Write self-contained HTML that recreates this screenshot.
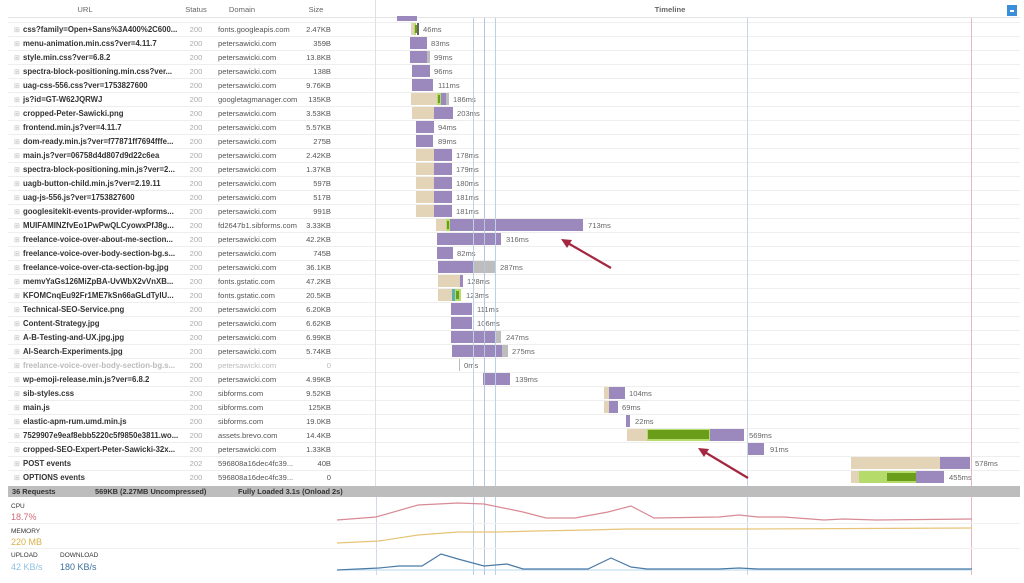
<!DOCTYPE html>
<html><head><meta charset="utf-8"><style>
html,body{margin:0;padding:0;background:#fff;width:1024px;height:583px;overflow:hidden}
svg{display:block;font-family:"Liberation Sans",sans-serif}
.u{font-size:7.8px;font-weight:bold;fill:#333}
.s{font-size:7.6px;fill:#aaa;text-anchor:middle}
.d{font-size:7.6px;fill:#555}
.z{font-size:7.6px;fill:#555;text-anchor:end}
.m{font-size:7.6px;fill:#666}
.h{font-size:7.6px;fill:#666;text-anchor:middle}
.p{fill:#9b88bd}.t{fill:#e3d4b8}.g{fill:#6a9e1a}.lg{fill:#b5dc6a}.gr{fill:#bdbdbd}
.b{font-size:7.4px;font-weight:bold;fill:#333}
</style></head><body>
<svg width="1024" height="583" viewBox="0 0 1024 583">
<text class="h" x="85" y="12">URL</text>
<text class="h" x="196" y="12">Status</text>
<text class="h" x="242" y="12">Domain</text>
<text class="h" x="316" y="12">Size</text>
<text class="h" x="670" y="12" style="font-weight:bold">Timeline</text>
<rect x="1007" y="5" width="10" height="11" fill="#3a8fd8"/>
<rect x="1010" y="10" width="4" height="2" fill="#fff"/>
<line x1="8" y1="17.5" x2="1020" y2="17.5" stroke="#e4e4e4"/>
<g stroke="#eee" stroke-width="1">
<line x1="8" y1="22.5" x2="1020" y2="22.5"/><line x1="8" y1="36.5" x2="1020" y2="36.5"/><line x1="8" y1="50.5" x2="1020" y2="50.5"/><line x1="8" y1="64.5" x2="1020" y2="64.5"/><line x1="8" y1="78.5" x2="1020" y2="78.5"/><line x1="8" y1="92.5" x2="1020" y2="92.5"/><line x1="8" y1="106.5" x2="1020" y2="106.5"/><line x1="8" y1="120.5" x2="1020" y2="120.5"/><line x1="8" y1="134.5" x2="1020" y2="134.5"/><line x1="8" y1="148.5" x2="1020" y2="148.5"/><line x1="8" y1="162.5" x2="1020" y2="162.5"/><line x1="8" y1="176.5" x2="1020" y2="176.5"/><line x1="8" y1="190.5" x2="1020" y2="190.5"/><line x1="8" y1="204.5" x2="1020" y2="204.5"/><line x1="8" y1="218.5" x2="1020" y2="218.5"/><line x1="8" y1="232.5" x2="1020" y2="232.5"/><line x1="8" y1="246.5" x2="1020" y2="246.5"/><line x1="8" y1="260.5" x2="1020" y2="260.5"/><line x1="8" y1="274.5" x2="1020" y2="274.5"/><line x1="8" y1="288.5" x2="1020" y2="288.5"/><line x1="8" y1="302.5" x2="1020" y2="302.5"/><line x1="8" y1="316.5" x2="1020" y2="316.5"/><line x1="8" y1="330.5" x2="1020" y2="330.5"/><line x1="8" y1="344.5" x2="1020" y2="344.5"/><line x1="8" y1="358.5" x2="1020" y2="358.5"/><line x1="8" y1="372.5" x2="1020" y2="372.5"/><line x1="8" y1="386.5" x2="1020" y2="386.5"/><line x1="8" y1="400.5" x2="1020" y2="400.5"/><line x1="8" y1="414.5" x2="1020" y2="414.5"/><line x1="8" y1="428.5" x2="1020" y2="428.5"/><line x1="8" y1="442.5" x2="1020" y2="442.5"/><line x1="8" y1="456.5" x2="1020" y2="456.5"/><line x1="8" y1="470.5" x2="1020" y2="470.5"/>
</g>
<line x1="375.5" y1="0" x2="375.5" y2="486" stroke="#e0e0e0"/>
<g fill="#bbb" font-size="7px"><text x="14" y="32">⊞</text><text x="14" y="46">⊞</text><text x="14" y="60">⊞</text><text x="14" y="74">⊞</text><text x="14" y="88">⊞</text><text x="14" y="102">⊞</text><text x="14" y="116">⊞</text><text x="14" y="130">⊞</text><text x="14" y="144">⊞</text><text x="14" y="158">⊞</text><text x="14" y="172">⊞</text><text x="14" y="186">⊞</text><text x="14" y="200">⊞</text><text x="14" y="214">⊞</text><text x="14" y="228">⊞</text><text x="14" y="242">⊞</text><text x="14" y="256">⊞</text><text x="14" y="270">⊞</text><text x="14" y="284">⊞</text><text x="14" y="298">⊞</text><text x="14" y="312">⊞</text><text x="14" y="326">⊞</text><text x="14" y="340">⊞</text><text x="14" y="354">⊞</text><text x="14" y="368">⊞</text><text x="14" y="382">⊞</text><text x="14" y="396">⊞</text><text x="14" y="410">⊞</text><text x="14" y="424">⊞</text><text x="14" y="438">⊞</text><text x="14" y="452">⊞</text><text x="14" y="466">⊞</text><text x="14" y="480">⊞</text></g>
<g>
<text class="u" x="23" y="32">css?family=Open+Sans%3A400%2C600...</text><text class="s" x="196" y="32">200</text><text class="d" x="218" y="32">fonts.googleapis.com</text><text class="z" x="331" y="32">2.47KB</text>
<text class="u" x="23" y="46">menu-animation.min.css?ver=4.11.7</text><text class="s" x="196" y="46">200</text><text class="d" x="218" y="46">petersawicki.com</text><text class="z" x="331" y="46">359B</text>
<text class="u" x="23" y="60">style.min.css?ver=6.8.2</text><text class="s" x="196" y="60">200</text><text class="d" x="218" y="60">petersawicki.com</text><text class="z" x="331" y="60">13.8KB</text>
<text class="u" x="23" y="74">spectra-block-positioning.min.css?ver...</text><text class="s" x="196" y="74">200</text><text class="d" x="218" y="74">petersawicki.com</text><text class="z" x="331" y="74">138B</text>
<text class="u" x="23" y="88">uag-css-556.css?ver=1753827600</text><text class="s" x="196" y="88">200</text><text class="d" x="218" y="88">petersawicki.com</text><text class="z" x="331" y="88">9.76KB</text>
<text class="u" x="23" y="102">js?id=GT-W62JQRWJ</text><text class="s" x="196" y="102">200</text><text class="d" x="218" y="102">googletagmanager.com</text><text class="z" x="331" y="102">135KB</text>
<text class="u" x="23" y="116">cropped-Peter-Sawicki.png</text><text class="s" x="196" y="116">200</text><text class="d" x="218" y="116">petersawicki.com</text><text class="z" x="331" y="116">3.53KB</text>
<text class="u" x="23" y="130">frontend.min.js?ver=4.11.7</text><text class="s" x="196" y="130">200</text><text class="d" x="218" y="130">petersawicki.com</text><text class="z" x="331" y="130">5.57KB</text>
<text class="u" x="23" y="144">dom-ready.min.js?ver=f77871ff7694fffe...</text><text class="s" x="196" y="144">200</text><text class="d" x="218" y="144">petersawicki.com</text><text class="z" x="331" y="144">275B</text>
<text class="u" x="23" y="158">main.js?ver=06758d4d807d9d22c6ea</text><text class="s" x="196" y="158">200</text><text class="d" x="218" y="158">petersawicki.com</text><text class="z" x="331" y="158">2.42KB</text>
<text class="u" x="23" y="172">spectra-block-positioning.min.js?ver=2...</text><text class="s" x="196" y="172">200</text><text class="d" x="218" y="172">petersawicki.com</text><text class="z" x="331" y="172">1.37KB</text>
<text class="u" x="23" y="186">uagb-button-child.min.js?ver=2.19.11</text><text class="s" x="196" y="186">200</text><text class="d" x="218" y="186">petersawicki.com</text><text class="z" x="331" y="186">597B</text>
<text class="u" x="23" y="200">uag-js-556.js?ver=1753827600</text><text class="s" x="196" y="200">200</text><text class="d" x="218" y="200">petersawicki.com</text><text class="z" x="331" y="200">517B</text>
<text class="u" x="23" y="214">googlesitekit-events-provider-wpforms...</text><text class="s" x="196" y="214">200</text><text class="d" x="218" y="214">petersawicki.com</text><text class="z" x="331" y="214">991B</text>
<text class="u" x="23" y="228">MUIFAMINZfvEo1PwPwQLCyowxPfJ8g...</text><text class="s" x="196" y="228">200</text><text class="d" x="218" y="228">fd2647b1.sibforms.com</text><text class="z" x="331" y="228">3.33KB</text>
<text class="u" x="23" y="242">freelance-voice-over-about-me-section...</text><text class="s" x="196" y="242">200</text><text class="d" x="218" y="242">petersawicki.com</text><text class="z" x="331" y="242">42.2KB</text>
<text class="u" x="23" y="256">freelance-voice-over-body-section-bg.s...</text><text class="s" x="196" y="256">200</text><text class="d" x="218" y="256">petersawicki.com</text><text class="z" x="331" y="256">745B</text>
<text class="u" x="23" y="270">freelance-voice-over-cta-section-bg.jpg</text><text class="s" x="196" y="270">200</text><text class="d" x="218" y="270">petersawicki.com</text><text class="z" x="331" y="270">36.1KB</text>
<text class="u" x="23" y="284">memvYaGs126MiZpBA-UvWbX2vVnXB...</text><text class="s" x="196" y="284">200</text><text class="d" x="218" y="284">fonts.gstatic.com</text><text class="z" x="331" y="284">47.2KB</text>
<text class="u" x="23" y="298">KFOMCnqEu92Fr1ME7kSn66aGLdTylU...</text><text class="s" x="196" y="298">200</text><text class="d" x="218" y="298">fonts.gstatic.com</text><text class="z" x="331" y="298">20.5KB</text>
<text class="u" x="23" y="312">Technical-SEO-Service.png</text><text class="s" x="196" y="312">200</text><text class="d" x="218" y="312">petersawicki.com</text><text class="z" x="331" y="312">6.20KB</text>
<text class="u" x="23" y="326">Content-Strategy.jpg</text><text class="s" x="196" y="326">200</text><text class="d" x="218" y="326">petersawicki.com</text><text class="z" x="331" y="326">6.62KB</text>
<text class="u" x="23" y="340">A-B-Testing-and-UX.jpg.jpg</text><text class="s" x="196" y="340">200</text><text class="d" x="218" y="340">petersawicki.com</text><text class="z" x="331" y="340">6.99KB</text>
<text class="u" x="23" y="354">AI-Search-Experiments.jpg</text><text class="s" x="196" y="354">200</text><text class="d" x="218" y="354">petersawicki.com</text><text class="z" x="331" y="354">5.74KB</text>
<text class="u" x="23" y="368" style="fill:#bbb">freelance-voice-over-body-section-bg.s...</text><text class="s" x="196" y="368">200</text><text class="d" x="218" y="368" style="fill:#bbb">petersawicki.com</text><text class="z" x="331" y="368" style="fill:#bbb">0</text>
<text class="u" x="23" y="382">wp-emoji-release.min.js?ver=6.8.2</text><text class="s" x="196" y="382">200</text><text class="d" x="218" y="382">petersawicki.com</text><text class="z" x="331" y="382">4.99KB</text>
<text class="u" x="23" y="396">sib-styles.css</text><text class="s" x="196" y="396">200</text><text class="d" x="218" y="396">sibforms.com</text><text class="z" x="331" y="396">9.52KB</text>
<text class="u" x="23" y="410">main.js</text><text class="s" x="196" y="410">200</text><text class="d" x="218" y="410">sibforms.com</text><text class="z" x="331" y="410">125KB</text>
<text class="u" x="23" y="424">elastic-apm-rum.umd.min.js</text><text class="s" x="196" y="424">200</text><text class="d" x="218" y="424">sibforms.com</text><text class="z" x="331" y="424">19.0KB</text>
<text class="u" x="23" y="438">7529907e9eaf8ebb5220c5f9850e3811.wo...</text><text class="s" x="196" y="438">200</text><text class="d" x="218" y="438">assets.brevo.com</text><text class="z" x="331" y="438">14.4KB</text>
<text class="u" x="23" y="452">cropped-SEO-Expert-Peter-Sawicki-32x...</text><text class="s" x="196" y="452">200</text><text class="d" x="218" y="452">petersawicki.com</text><text class="z" x="331" y="452">1.33KB</text>
<text class="u" x="23" y="466">POST events</text><text class="s" x="196" y="466">202</text><text class="d" x="218" y="466">596808a16dec4fc39...</text><text class="z" x="331" y="466">40B</text>
<text class="u" x="23" y="480">OPTIONS events</text><text class="s" x="196" y="480">200</text><text class="d" x="218" y="480">596808a16dec4fc39...</text><text class="z" x="331" y="480">0</text>
</g>
<rect class="p" x="397" y="16" width="20" height="5"/>
<rect class="t" x="411" y="23" width="3" height="12"/><rect class="lg" x="414" y="23" width="2" height="12"/><rect class="g" x="415" y="25" width="2" height="8"/><rect fill="#666" x="417" y="23" width="2" height="12"/><text class="m" x="423" y="32">46ms</text>
<rect class="p" x="410" y="37" width="17" height="12"/><text class="m" x="431" y="46">83ms</text>
<rect class="p" x="410" y="51" width="17" height="12"/><rect class="gr" x="427" y="51" width="3" height="12"/><text class="m" x="434" y="60">99ms</text>
<rect class="p" x="412" y="65" width="18" height="12"/><text class="m" x="434" y="74">96ms</text>
<rect class="p" x="412" y="79" width="21" height="12"/><text class="m" x="438" y="88">111ms</text>
<rect class="t" x="411" y="93" width="26" height="12"/><rect class="lg" x="437" y="93" width="4" height="12"/><rect class="g" x="438" y="95" width="2" height="8"/><rect class="p" x="441" y="93" width="5" height="12"/><rect class="gr" x="446" y="93" width="3" height="12"/><text class="m" x="453" y="102">186ms</text>
<rect class="t" x="412" y="107" width="22" height="12"/><rect class="p" x="434" y="107" width="19" height="12"/><text class="m" x="457" y="116">203ms</text>
<rect class="p" x="416" y="121" width="18" height="12"/><text class="m" x="438" y="130">94ms</text>
<rect class="p" x="416" y="135" width="17" height="12"/><text class="m" x="438" y="144">89ms</text>
<rect class="t" x="416" y="149" width="18" height="12"/><rect class="p" x="434" y="149" width="18" height="12"/><text class="m" x="456" y="158">178ms</text>
<rect class="t" x="416" y="163" width="18" height="12"/><rect class="p" x="434" y="163" width="18" height="12"/><text class="m" x="456" y="172">179ms</text>
<rect class="t" x="416" y="177" width="18" height="12"/><rect class="p" x="434" y="177" width="18" height="12"/><text class="m" x="456" y="186">180ms</text>
<rect class="t" x="416" y="191" width="18" height="12"/><rect class="p" x="434" y="191" width="18" height="12"/><text class="m" x="456" y="200">181ms</text>
<rect class="t" x="416" y="205" width="18" height="12"/><rect class="p" x="434" y="205" width="18" height="12"/><text class="m" x="456" y="214">181ms</text>
<rect class="t" x="436" y="219" width="10" height="12"/><rect class="lg" x="446" y="219" width="4" height="12"/><rect class="g" x="447" y="221" width="2" height="8"/><rect class="p" x="450" y="219" width="133" height="12"/><text class="m" x="588" y="228">713ms</text>
<rect class="p" x="437" y="233" width="64" height="12"/><text class="m" x="506" y="242">316ms</text>
<rect class="p" x="437" y="247" width="16" height="12"/><text class="m" x="457" y="256">82ms</text>
<rect class="p" x="438" y="261" width="35" height="12"/><rect class="gr" x="473" y="261" width="22" height="12"/><text class="m" x="500" y="270">287ms</text>
<rect class="t" x="438" y="275" width="22" height="12"/><rect class="p" x="460" y="275" width="3" height="12"/><text class="m" x="467" y="284">128ms</text>
<rect class="t" x="438" y="289" width="14" height="12"/><rect fill="#5ab0b0" x="452" y="289" width="3" height="12"/><rect class="lg" x="455" y="289" width="6" height="12"/><rect class="g" x="456" y="291" width="3" height="8"/><text class="m" x="466" y="298">123ms</text>
<rect class="p" x="451" y="303" width="21" height="12"/><text class="m" x="477" y="312">111ms</text>
<rect class="p" x="451" y="317" width="21" height="12"/><text class="m" x="477" y="326">106ms</text>
<rect class="p" x="451" y="331" width="45" height="12"/><rect class="gr" x="496" y="331" width="5" height="12"/><text class="m" x="506" y="340">247ms</text>
<rect class="p" x="452" y="345" width="50" height="12"/><rect class="gr" x="502" y="345" width="6" height="12"/><text class="m" x="512" y="354">275ms</text>
<rect fill="#bbb" x="459" y="359" width="1" height="12"/><text class="m" x="464" y="368">0ms</text>
<rect class="p" x="483" y="373" width="27" height="12"/><text class="m" x="515" y="382">139ms</text>
<rect class="t" x="604" y="387" width="5" height="12"/><rect class="p" x="609" y="387" width="16" height="12"/><text class="m" x="629" y="396">104ms</text>
<rect class="t" x="604" y="401" width="5" height="12"/><rect class="p" x="609" y="401" width="9" height="12"/><text class="m" x="622" y="410">69ms</text>
<rect class="p" x="626" y="415" width="4" height="12"/><text class="m" x="635" y="424">22ms</text>
<rect class="t" x="627" y="429" width="20" height="12"/><rect class="lg" x="647" y="429" width="63" height="12"/><rect class="g" x="648" y="430" width="61" height="9"/><rect class="p" x="710" y="429" width="34" height="12"/><text class="m" x="749" y="438">569ms</text>
<rect class="p" x="747" y="443" width="17" height="12"/><text class="m" x="770" y="452">91ms</text>
<rect class="t" x="851" y="457" width="89" height="12"/><rect class="p" x="940" y="457" width="30" height="12"/><text class="m" x="975" y="466">578ms</text>
<rect class="t" x="851" y="471" width="8" height="12"/><rect class="lg" x="859" y="471" width="57" height="12"/><rect class="g" x="887" y="473" width="29" height="8"/><rect class="p" x="916" y="471" width="28" height="12"/><text class="m" x="949" y="480">455ms</text>
<g stroke-width="1">
<line x1="473.5" y1="18" x2="473.5" y2="575" stroke="#bcd0e6"/>
<line x1="484.5" y1="18" x2="484.5" y2="575" stroke="#b8c4e0"/>
<line x1="495.5" y1="18" x2="495.5" y2="575" stroke="#bcd0e6"/>
<line x1="747.5" y1="18" x2="747.5" y2="575" stroke="#c8d6e6"/>
<line x1="971.5" y1="18" x2="971.5" y2="575" stroke="#e6b8c4"/>
<line x1="376.5" y1="497" x2="376.5" y2="575" stroke="#d0dae8"/>
</g>
<g stroke="#a3283f" stroke-width="2.2" fill="#a3283f">
<line x1="611" y1="268" x2="566" y2="242"/>
<polygon points="561,239 572,240 567,248" stroke="none"/>
<line x1="748" y1="478" x2="703" y2="451"/>
<polygon points="698,448 709,449 704,457" stroke="none"/>
</g>
<rect x="8" y="486" width="1012" height="11" fill="#bdbdbd"/>
<text class="b" x="12" y="494">36 Requests</text>
<text class="b" x="95" y="494">569KB  (2.27MB Uncompressed)</text>
<text class="b" x="238" y="494">Fully Loaded 3.1s  (Onload 2s)</text>
<line x1="8" y1="523.5" x2="1020" y2="523.5" stroke="#f0f0f0"/>
<line x1="8" y1="548.5" x2="1020" y2="548.5" stroke="#f0f0f0"/>
<text x="11" y="508" font-size="6.5px" fill="#333">CPU</text>
<text x="11" y="520" font-size="9px" fill="#d06a78">18.7%</text>
<text x="11" y="533" font-size="6.5px" fill="#333">MEMORY</text>
<text x="11" y="545" font-size="9px" fill="#d9b04a">220 MB</text>
<text x="11" y="557" font-size="6.5px" fill="#333">UPLOAD</text>
<text x="60" y="557" font-size="6.5px" fill="#333">DOWNLOAD</text>
<text x="11" y="570" font-size="9px" fill="#8fc0e0">42 KB/s</text>
<text x="60" y="570" font-size="9px" fill="#3c6e9c">180 KB/s</text>
<polyline fill="none" stroke="#d88a95" stroke-width="1.2" points="337,520 376,517 418,505 458,503 484,504 523,512 546,518 575,518 608,512 631,506 654,518 719,517 739,515 758,517 784,517 824,520 843,519 876,520 972,519"/>
<polyline fill="none" stroke="#e6c477" stroke-width="1.2" points="337,543 379,541 418,535 458,532 497,532 536,531 588,530 627,529 654,529 752,529 972,528"/>
<polyline fill="none" stroke="#b8d8ee" stroke-width="1" points="337,570 972,570"/>
<polyline fill="none" stroke="#4a7aa6" stroke-width="1.2" points="337,570 379,568 399,566 422,566 441,554 458,559 484,566 507,564 523,569 588,569 611,558 631,567 647,569 719,569 739,568 758,569 972,569"/>
</svg>
</body></html>
